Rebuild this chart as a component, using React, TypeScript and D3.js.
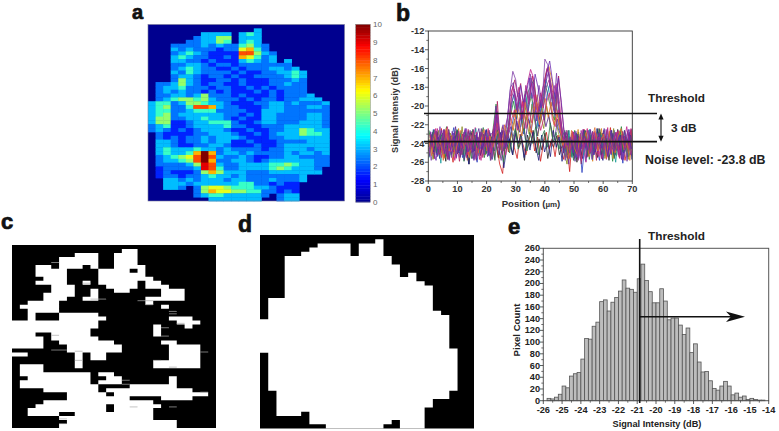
import React from "react";
import * as d3 from "d3";

// ---------- panel a: heat grid (46 rows x 26 columns), digit = level, a = 10
const heatRows = [
"00000 00000 00000 00000 00000 0","00000 00000 00003 00000 00000 0","00000 00333 30343 00000 00000 0",
"00000 02335 50333 00000 00000 0","00000 22335 40343 00000 00000 0","00022 22323 22453 20000 00000 0",
"00032 32221 22674 20000 00000 0","00023 43211 11885 32000 00000 0","00034 32211 21764 23000 00000 0",
"00033 22121 11343 23030 00000 0","00022 33212 21222 22220 00000 0","00023 43221 12122 23323 00000 0",
"00032 43222 21211 22334 30000 0","00023 32122 12112 22234 30000 0","00025 32112 21211 12223 20000 0",
"02235 32122 11211 12232 20000 0","02334 22212 21121 21222 20000 0","02323 22121 21112 12122 20000 0",
"02233 23522 21211 12122 23000 0","02345 54532 22121 22122 33300 0","34423 55433 21112 23323 22230 0",
"34522 48873 22111 23322 23320 0","34422 34442 22211 33322 22220 0","34523 33333 22121 33222 23320 0",
"35522 33433 21211 33222 23320 0","35511 23344 42112 33222 33320 0","23411 23333 42211 22233 33320 0",
"23212 12333 21121 12233 54330 0","02111 12233 32112 12333 54430 0","02121 22323 33211 12233 33330 0",
"03321 22323 31121 11222 23330 0","03321 12233 21112 11233 33330 0","03433 34332 32222 12233 32330 0",
"03433 47a72 33232 22232 33230 0","02345 68a83 22321 12233 22220 0","02334 58a72 23321 23333 33220 0",
"02222 35983 22333 34454 33220 0","01222 23984 22333 34543 33200 0","01211 12575 33322 23333 33300 0",
"01221 22343 32322 22222 30000 0","00332 32333 23322 23222 30000 0","00333 23333 33442 21211 00000 0",
"00332 02566 54443 32111 00000 0","00000 02576 65544 22121 00000 0","00000 02344 33333 20233 00000 0",
"00000 00033 33333 00233 00000 0",
];
const heatLevels = [0, 1.6, 2.4, 3.1, 4.3, 5.2, 6, 7, 8, 9, 10];
const colorbarTicks = [0, 1, 2, 3, 4, 5, 6, 7, 8, 9, 10];
const jetStops = [0, 1.25, 3.75, 6.25, 8.75, 10];
const jetColors = ["#00008f", "#0000ff", "#00ffff", "#ffff00", "#ff0000", "#800000"];

// ---------- panel b: traces in tenths of dB below zero, one value per micrometre
const traceColors = ["#222222","#d01c1c","#1f8a3a","#2a3fc0","#d9801c","#c0208a","#8a8a20","#1c1c80","#1c9a9a","#b02060","#7030a0","#8040a8","#d02878","#5a2a90","#2a7a4a","#e07030","#6a2ab0","#a02890"];
const traceShift = [0,0.5,0.25,0.75,0.4,0.1,0.6,0.9,0.3,0.7,0.2,0,0.55,0.35,0.85,0.15,0.65,0.45];
const trace01 = [244,231,256,228,249,236,259,225,242,233,251,229,246,238,262,227,244,235,253,230,247,228,241,236,255,233,248,226,240,252,229,245,237,258,231,243,226,250,235,247,229,256,238,244,232,252,241,248,226,254,233,260,237,245,229,251,236,242,255,228,247,234,258,231,243,225,252,237,249,230,246];
const trace02 = [229,251,238,246,224,255,233,242,260,227,248,236,231,253,240,226,258,234,247,229,250,238,224,243,262,272,235,249,228,244,256,230,241,252,237,226,248,233,259,240,228,246,235,254,231,245,257,238,270,229,243,236,262,225,249,233,251,240,228,256,237,244,223,252,235,247,230,258,241,227,249];
const trace03 = [226,244,238,253,231,247,222,256,235,249,241,228,259,236,245,225,252,234,229,255,237,246,224,198,236,250,242,228,210,195,214,190,222,205,185,178,172,200,215,192,178,192,205,215,185,212,240,255,232,247,226,251,238,243,229,257,235,246,224,252,233,241,228,259,236,245,222,250,239,231,254];
const trace04 = [240,225,252,234,247,229,257,238,223,249,232,255,241,227,246,236,260,230,244,226,253,235,248,225,233,245,228,239,220,205,225,212,230,208,218,195,205,222,200,215,188,176,198,214,226,232,252,239,246,228,255,233,271,240,226,250,236,243,258,229,245,232,252,226,247,238,261,233,242,225,250];
const trace05 = [252,236,228,245,239,256,226,243,233,250,224,247,237,258,229,241,252,234,225,246,238,255,230,215,238,222,240,226,205,212,198,210,195,215,200,190,204,188,212,196,165,158,172,195,210,224,243,232,256,238,247,225,253,236,242,228,259,233,246,224,251,239,230,256,243,227,248,235,254,229,241];
const trace06 = [248,231,256,224,239,251,229,246,237,258,226,243,235,255,232,249,223,244,258,230,241,253,228,212,245,230,238,215,190,178,195,180,202,190,175,161,170,195,205,184,170,158,182,200,176,198,235,229,252,241,256,233,247,225,260,238,244,227,251,235,229,257,243,234,252,226,248,239,222,246,231];
const trace07 = [233,257,241,226,250,236,244,229,254,239,247,222,251,234,228,256,240,245,231,252,226,249,237,225,256,240,234,247,228,214,236,208,226,212,230,198,218,232,210,224,200,216,234,212,228,238,247,262,234,251,240,228,255,232,246,226,252,237,243,229,256,235,248,224,253,230,244,238,257,226,250];
const trace08 = [238,249,227,256,233,245,228,252,241,226,255,236,243,262,229,248,233,252,238,225,246,257,232,241,228,266,245,235,252,226,240,230,255,236,247,228,243,258,231,249,237,254,226,244,233,259,228,246,238,253,230,241,256,227,248,235,252,224,243,258,232,247,226,254,239,231,250,243,228,257,236];
const trace09 = [255,230,243,235,261,226,248,239,231,252,244,227,256,233,246,240,224,253,236,249,229,258,242,220,228,248,236,222,200,188,205,196,218,184,205,186,210,224,196,208,172,182,200,186,205,220,238,249,226,255,236,244,229,252,240,225,257,234,247,231,253,227,243,238,260,232,249,226,254,241,228];
const trace10 = [228,246,235,252,243,226,257,232,249,238,259,230,241,225,250,236,247,228,255,233,244,238,256,195,242,226,236,218,184,172,190,176,200,182,194,168,188,206,192,176,160,170,186,210,168,200,232,256,243,228,250,235,246,226,254,239,231,258,224,247,236,252,229,245,233,256,227,241,250,235,246];
const trace11 = [246,238,225,254,230,248,236,258,227,243,233,251,228,247,240,256,231,245,224,252,237,229,248,200,230,244,226,212,180,175,205,186,214,192,210,170,182,216,204,188,176,164,190,206,180,216,240,232,262,229,247,238,253,225,244,234,257,229,249,241,226,255,236,246,228,252,240,232,259,225,243];
const trace12 = [236,258,233,247,222,252,241,226,255,232,246,237,253,224,248,231,257,239,228,251,243,226,254,210,240,258,232,220,186,163,172,196,216,188,206,166,184,204,178,200,150,156,176,204,165,210,226,258,239,247,228,254,233,242,259,226,249,236,244,230,256,225,247,238,252,229,243,257,234,246,238];
const trace13 = [231,247,224,241,255,233,222,249,238,256,230,245,226,252,236,243,228,257,233,241,224,250,235,218,247,236,252,228,215,204,226,212,195,224,206,218,188,208,226,214,196,186,214,222,204,226,245,238,251,227,243,232,258,236,224,249,241,229,254,233,246,223,251,238,228,255,241,232,247,224,252];
const trace14 = [254,228,241,233,247,225,253,236,244,222,250,232,258,241,226,249,235,224,246,238,254,231,227,240,252,226,246,232,222,238,216,228,206,236,214,226,204,232,218,206,222,210,226,236,214,230,250,228,243,236,259,230,244,226,255,238,227,249,233,245,224,253,240,229,248,234,257,226,243,231,250];
const trace15 = [242,226,250,237,229,254,240,232,247,225,243,252,228,239,256,231,245,236,223,251,240,233,258,226,244,260,228,250,236,224,246,232,224,248,228,240,222,252,234,226,244,218,238,228,246,234,226,252,236,258,229,245,238,226,253,231,248,240,225,251,234,244,228,256,237,226,249,233,254,240,229];
const trace16 = [235,253,229,244,237,258,224,248,231,251,239,226,246,233,255,228,242,250,236,225,248,232,244,232,226,248,220,234,212,226,204,220,232,196,214,228,208,196,220,204,192,212,196,220,208,224,242,234,256,226,245,252,230,241,228,254,236,223,248,238,230,256,227,243,250,233,224,247,239,258,232];
const trace17 = [227,244,258,234,226,251,238,247,229,255,235,243,224,249,237,258,230,246,241,227,252,236,229,206,234,220,244,224,198,184,208,178,196,186,170,192,166,180,202,190,164,152,174,192,170,196,230,242,233,250,227,256,240,232,247,225,252,238,229,245,236,254,226,249,241,231,258,236,225,246,233];
const trace18 = [250,234,227,246,241,225,254,232,243,236,227,252,240,231,247,225,256,238,228,244,233,258,225,204,230,252,238,224,192,182,204,188,212,178,198,176,196,212,186,202,180,172,192,178,198,214,236,226,250,240,231,258,226,243,235,251,228,246,233,256,241,225,250,236,229,254,231,245,227,252,240];
const tracesB = [trace01,trace02,trace03,trace04,trace05,trace06,trace07,trace08,trace09,trace10,trace11,trace12,trace13,trace14,trace15,trace16,trace17,trace18];
const positionsB = d3.range(0, 71);
const xTicksB = [0, 10, 20, 30, 40, 50, 60, 70];
const yTicksB = [-12, -14, -16, -18, -20, -22, -24, -26, -28];

// ---------- panel c: white runs per row
const cRuns: number[][][] = [
[],[[14,16]],[[8,11],[13,16]],[[6,11],[13,16]],[[6,11],[13,16]],[[3,5],[6,9],[10,11],[13,17]],
[[3,7],[11,15],[16,17]],[[3,7],[11,17]],[[4,7],[11,18]],[[3,7],[9,10],[11,16],[17,19]],[[5,8],[12,16],[17,20]],
[[5,8],[10,11],[13,15],[19,22]],[[4,8],[10,11],[19,22]],[[4,7],[9,11],[17,19],[19,22]],[[2,6],[17,18]],
[[1,6],[19,20]],[[2,6]],[[2,3],[6,11]],[[2,3],[6,12],[20,23]],[[0,11],[21,24]],[[0,11],[18,19],[22,23]],
[[0,10],[18,19]],[[0,3],[5,10],[18,19]],[[0,4],[5,11]],[[0,4],[6,13],[19,21]],[[0,4],[7,14],[20,24]],
[[7,14],[20,24]],[[0,2],[8,9],[10,12],[20,24]],[[8,9],[10,12],[20,24]],[[8,9],[18,24]],[[1,4],[8,9],[18,24]],
[[1,4]],[[1,10],[11,13]],[[2,10],[12,14],[20,21]],[[1,10],[11,14],[20,21]],[[1,11],[15,21]],[[4,11],[12,23]],
[[7,12],[13,25]],[[7,15],[19,23]],[[4,15],[15,18]],[[3,8],[8,12],[13,19]],[[2,8],[8,12],[13,18]],
[[2,6],[8,18]],[[6,18]],[[7,19],[19,21]],[[6,21]],
];
// thin grey remnants: row position, from column, to column
const cThin = [[4.4,5,6],[9.6,9,10],[13.6,10,12],[14,16,18],[15,17,18],[16.7,20,21],[17.3,20,21],[19.7,21,22],[20.8,19,20],[22.7,5,6],[22.9,19,20],[26.4,5,7],[26.7,8,9],[26.9,24,25],[29,8,9],[29,18,19],[30.7,20,21],[34,14,15],[35,14,15],[37,24,25],[40.7,15,16],[40.7,20,21],[43.7,6,7],[44.9,6,7]];

// ---------- panel d: white span per column (first row, row after last)
const dTop = [20,15,15,5,5,4,3,2,2,2,2,5,2,2,1,5,7,10,9,11,12,18,19,27];
const dBottom = [28,37,43,43,43,42,45,45,46,46,46,46,46,46,46,45,44,46,46,46,41,39,39,37];

// ---------- panel e: histogram, 0.2 dB bins from -25.8
const binStart = -25.8;
const binWidth = 0.2;
const pixelCounts = [4,3,6,11,25,22,42,46,48,71,106,105,127,134,169,172,153,168,176,187,206,192,190,185,208,233,205,186,167,167,191,170,138,141,141,129,113,124,82,97,66,49,50,34,21,18,25,33,25,10,13,6,8,2,4,2,1,1,0];
const xTicksE = [-26,-25,-24,-23,-22,-21,-20,-19,-18,-17,-16,-15,-14];
const yTicksE = d3.range(0, 261, 20);

const ARIAL = "'Liberation Sans', Arial, sans-serif";
const cols = d3.range(26);
const rowsIdx = d3.range(46);

const jet = d3.scaleLinear<string>().domain(jetStops).range(jetColors).interpolate(d3.interpolateRgb);

function PanelA() {
  const x = d3.scaleBand<number>().domain(cols).range([148, 344.5]);
  const y = d3.scaleBand<number>().domain(rowsIdx).range([24.5, 201]);
  const parsed = heatRows.map((r) => r.replace(/ /g, "").split(""));
  const barCells = d3.range(64);
  const by = d3.scaleBand<number>().domain(barCells).range([202, 24.3]);
  const bt = d3.scaleLinear().domain([0, 10]).range([202, 24.3]);
  return (
    <g>
      <g filter="url(#soft)">
        <rect x={148} y={24.5} width={196.5} height={176.5} fill={jet(0)} />
        {parsed.map((row, r) =>
          row.map((c, i) => {
            const lev = c === "a" ? 10 : +c;
            return lev === 0 ? null : (
              <rect key={r + "-" + i} x={x(i)} y={y(r)} width={x.bandwidth() + 0.4} height={y.bandwidth() + 0.4} fill={jet(heatLevels[lev])} />
            );
          })
        )}
        {barCells.map((k) => (
          <rect key={k} x={355.7} y={by(k)} width={14.6} height={by.bandwidth() + 0.4} fill={jet(((k + 0.5) / 64) * 10)} />
        ))}
      </g>
      <rect x={148} y={24.5} width={196.5} height={176.5} fill="none" stroke="#7a7a9a" strokeWidth={0.6} />
      <rect x={355.7} y={24.3} width={14.6} height={177.7} fill="none" stroke="#888" strokeWidth={0.5} />
      {colorbarTicks.map((t) => (
        <text key={t} x={373} y={bt(t) + 3} fontFamily={ARIAL} fontSize={8} fill="#666">{t}</text>
      ))}
    </g>
  );
}

function PanelB() {
  const x = d3.scaleLinear().domain([0, 70]).range([428.3, 632.3]);
  const y = d3.scaleLinear().domain([-28, -12]).range([181, 31]);
  const minorX = d3.range(5, 70, 10);
  const minorY = d3.range(-27, -12, 2);
  return (
    <g>
      <clipPath id="plotB"><rect x={428.3} y={31} width={204} height={150} /></clipPath>
      <g filter="url(#softer)" clipPath="url(#plotB)">
        {tracesB.map((t, i) => {
          const line = d3.line<number>().x((_, j) => x(positionsB[j] + traceShift[i])).y((d) => y(-d / 10));
          return <path key={i} d={line(t) || ""} fill="none" stroke={traceColors[i]} strokeWidth={0.8} />;
        })}
      </g>
      <rect x={428.3} y={31} width={204} height={150} fill="none" stroke="#333" strokeWidth={0.9} />
      {xTicksB.map((t) => (
        <g key={t}>
          <line x1={x(t)} x2={x(t)} y1={181} y2={184} stroke="#333" strokeWidth={0.8} />
          <text x={x(t)} y={192} textAnchor="middle" fontFamily={ARIAL} fontWeight={700} fontSize={9.2} fill="#333">{t}</text>
        </g>
      ))}
      {minorX.map((t) => <line key={t} x1={x(t)} x2={x(t)} y1={181} y2={183} stroke="#333" strokeWidth={0.7} />)}
      {yTicksB.map((t) => (
        <g key={t}>
          <line x1={425} x2={428.3} y1={y(t)} y2={y(t)} stroke="#333" strokeWidth={0.8} />
          <text x={424.3} y={y(t) + 3.2} textAnchor="end" fontFamily={ARIAL} fontWeight={700} fontSize={9.2} fill="#333">{t}</text>
        </g>
      ))}
      {minorY.map((t) => <line key={t} x1={426.3} x2={428.3} y1={y(t)} y2={y(t)} stroke="#333" strokeWidth={0.7} />)}
      <text transform="translate(398,110) rotate(-90)" textAnchor="middle" fontFamily={ARIAL} fontWeight={700} fontSize={9.2} fill="#333">Signal Intensiy (dB)</text>
      <text x={531} y={207} textAnchor="middle" fontFamily={ARIAL} fontWeight={700} fontSize={9.6} fill="#333">Position (<tspan fontSize={8}>µm</tspan>)</text>
      <line x1={424} x2={657} y1={y(-20.8)} y2={y(-20.8)} stroke="#111" strokeWidth={1.7} />
      <line x1={424} x2={657} y1={y(-23.8)} y2={y(-23.8)} stroke="#111" strokeWidth={1.7} />
      <line x1={661} x2={661} y1={y(-20.8) + 4} y2={y(-23.8) - 4} stroke="#111" strokeWidth={1.1} />
      <path d={`M661,${y(-20.8)} l-2.6,6 h5.2 Z M661,${y(-23.8)} l-2.6,-6 h5.2 Z`} fill="#111" />
      <text x={648} y={102} fontFamily={ARIAL} fontSize={11.8} fontWeight={700} fill="#222">Threshold</text>
      <text x={671} y={132} fontFamily={ARIAL} fontSize={11.8} fontWeight={700} fill="#222">3 dB</text>
      <text x={645} y={164} fontFamily={ARIAL} fontSize={12.4} fontWeight={700} fill="#222">Noise level: -23.8 dB</text>
    </g>
  );
}

function PanelC() {
  const x = d3.scaleBand<number>().domain(cols).range([12, 216]);
  const y = d3.scaleBand<number>().domain(rowsIdx).range([245, 428]);
  const cw = x.bandwidth();
  const rh = y.bandwidth();
  const p = d3.path();
  cRuns.forEach((runs, r) => runs.forEach(([a, b]) => p.rect(x(a) as number, y(r) as number, (b - a) * cw, rh)));
  return (
    <g filter="url(#soft)">
      <rect x={12} y={245} width={204} height={183} fill="#000" />
      <path d={p.toString()} fill="#fff" />
      {cThin.map(([r, a, b], i) => (
        <line key={i} x1={12 + a * cw} x2={12 + b * cw} y1={245 + r * rh} y2={245 + r * rh} stroke="#aaa" strokeWidth={0.7} />
      ))}
    </g>
  );
}

function PanelD() {
  const x = d3.scaleBand<number>().domain(cols).range([260, 474]);
  const y = d3.scaleLinear().domain([0, 46]).range([235, 428.5]);
  const p = d3.path();
  dTop.forEach((t, i) => p.rect(x(i) as number, y(t), x.bandwidth(), y(dBottom[i]) - y(t)));
  return (
    <g filter="url(#soft)">
      <rect x={260} y={235} width={214} height={193.5} fill="#000" />
      <path d={p.toString()} fill="#fff" />
    </g>
  );
}

function PanelE() {
  const x = d3.scaleLinear().domain([-26, -14]).range([543.3, 768.7]);
  const y = d3.scaleLinear().domain([0, 260]).range([400.7, 248.3]);
  const minorX = d3.range(-25.5, -14, 1);
  const minorY = d3.range(10, 260, 20);
  return (
    <g>
      {pixelCounts.map((c, i) => {
        const lo = binStart + i * binWidth;
        return (
          <rect key={i} x={x(lo)} y={y(c)} width={x(lo + binWidth) - x(lo)} height={400.7 - y(c)} fill="#bdbdbd" stroke="#555" strokeWidth={0.8} />
        );
      })}
      <rect x={543.3} y={248.3} width={225.4} height={152.4} fill="none" stroke="#555" strokeWidth={1} />
      {xTicksE.map((t) => (
        <g key={t}>
          <line x1={x(t)} x2={x(t)} y1={400.7} y2={404} stroke="#333" strokeWidth={0.8} />
          <text x={x(t)} y={413} textAnchor="middle" fontFamily={ARIAL} fontWeight={700} fontSize={9.2} fill="#222">{t}</text>
        </g>
      ))}
      {minorX.map((t) => <line key={t} x1={x(t)} x2={x(t)} y1={400.7} y2={402.7} stroke="#333" strokeWidth={0.7} />)}
      {yTicksE.map((t) => (
        <g key={t}>
          <line x1={540} x2={543.3} y1={y(t)} y2={y(t)} stroke="#333" strokeWidth={0.8} />
          <text x={540} y={y(t) + 3} textAnchor="end" fontFamily={ARIAL} fontWeight={700} fontSize={9.2} fill="#222">{t}</text>
        </g>
      ))}
      {minorY.map((t) => <line key={t} x1={541.3} x2={543.3} y1={y(t)} y2={y(t)} stroke="#333" strokeWidth={0.7} />)}
      <text transform="translate(520,330) rotate(-90)" textAnchor="middle" fontFamily={ARIAL} fontWeight={700} fontSize={9.6} fill="#222">Pixel Count</text>
      <text x={657} y={427} textAnchor="middle" fontFamily={ARIAL} fontWeight={700} fontSize={9.2} fill="#222">Signal Intensity (dB)</text>
      <line x1={639.7} x2={639.7} y1={239} y2={403} stroke="#111" strokeWidth={1.6} />
      <line x1={639.7} x2={735} y1={316.7} y2={316.7} stroke="#111" strokeWidth={1.4} />
      <path d="M745,316.7 L726,311.5 L731,316.7 L726,322 Z" fill="#111" />
      <text x={648} y={240} fontFamily={ARIAL} fontSize={11.8} fontWeight={700} fill="#222">Threshold</text>
    </g>
  );
}

const panelLetters = [
  { t: "a", x: 132, y: 19, s: 20 },
  { t: "b", x: 396, y: 20.5, s: 23 },
  { t: "c", x: 1, y: 229, s: 22 },
  { t: "d", x: 238, y: 232, s: 23 },
  { t: "e", x: 508, y: 234, s: 22 },
];

export default function App() {
  return (
    <svg width={779} height={431} viewBox="0 0 779 431" style={{ position: "absolute", left: 0, top: 0, background: "#fff" }}>
      <defs>
        <filter id="soft" x="-2%" y="-2%" width="104%" height="104%">
          <feGaussianBlur stdDeviation={0.55} />
        </filter>
        <filter id="softer" x="-2%" y="-2%" width="104%" height="104%">
          <feGaussianBlur stdDeviation={0.3} />
        </filter>
      </defs>
      <PanelA />
      <PanelB />
      <PanelC />
      <PanelD />
      <PanelE />
      {panelLetters.map((l) => (
        <text key={l.t} x={l.x} y={l.y} fontFamily={ARIAL} fontWeight={700} fontSize={l.s} fill="#111" stroke="#111" strokeWidth={0.7}>{l.t}</text>
      ))}
    </svg>
  );
}
